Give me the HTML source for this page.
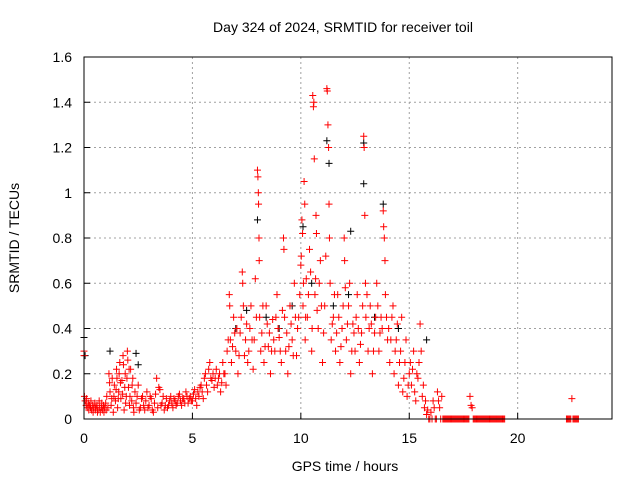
<!DOCTYPE html>
<html><head><meta charset="utf-8"><style>
body{margin:0;background:#fff}
svg{display:block;font-family:"Liberation Sans",sans-serif}
</style></head><body>
<svg id="chart" width="640" height="480" xmlns="http://www.w3.org/2000/svg">
<rect width="640" height="480" fill="#fff"/>
<text x="343" y="32" font-size="14" text-anchor="middle">Day 324 of 2024, SRMTID for receiver toil</text>
<text x="345" y="471" font-size="14" text-anchor="middle">GPS time / hours</text>
<text transform="translate(19,238) rotate(-90)" font-size="14" text-anchor="middle">SRMTID / TECUs</text>
<g id="grid"></g>
<g id="ticks"></g>
<g id="black"></g>
<g id="red"></g>
<rect x="84" y="57" width="528" height="362" fill="none" stroke="#000"/>
</svg>
<script>
const xTicks=[0,5,10,15,20];
const yTicks=[0,0.2,0.4,0.6,0.8,1,1.2,1.4,1.6];
const yTickLabels=["0","0.2","0.4","0.6","0.8","1","1.2","1.4","1.6"];
const redEarly=[[0,0.3],[0,0.28],[0.02,0.1],[0.05,0.08],[0.1,0.06],[0.12,0.09],[0.15,0.05],[0.2,0.07],[0.22,0.04],[0.25,0.06],[0.3,0.05],[0.32,0.08],[0.35,0.04],[0.4,0.06],[0.42,0.03],[0.45,0.05],[0.5,0.07],[0.52,0.04],[0.55,0.05],[0.6,0.06],[0.62,0.03],[0.65,0.04],[0.7,0.08],[0.72,0.05],[0.75,0.03],[0.8,0.05],[0.82,0.07],[0.85,0.04],[0.9,0.06],[0.92,0.03],[0.95,0.05],[1,0.07],[1.02,0.04],[1.05,0.1],[1.1,0.05],[1.15,0.2],[1.18,0.16],[1.2,0.12],[1.25,0.06],[1.28,0.09],[1.3,0.18],[1.35,0.03],[1.38,0.1],[1.4,0.15],[1.45,0.08],[1.48,0.13],[1.5,0.22],[1.52,0.18],[1.55,0.05],[1.58,0.09],[1.6,0.12],[1.62,0.2],[1.65,0.25],[1.68,0.16],[1.7,0.09],[1.75,0.17],[1.78,0.11],[1.8,0.28],[1.82,0.24],[1.85,0.04],[1.88,0.14],[1.9,0.2],[1.92,0.07],[1.95,0.1],[1.98,0.18],[2,0.3],[2.02,0.26],[2.05,0.14],[2.08,0.22],[2.1,0.06],[2.12,0.1],[2.15,0.22],[2.2,0.08],[2.22,0.15],[2.25,0.18],[2.28,0.05],[2.3,0.03],[2.35,0.12],[2.4,0.07],[2.45,0.1],[2.5,0.15],[2.55,0.04],[2.6,0.05],[2.65,0.09],[2.7,0.1],[2.75,0.06],[2.8,0.04],[2.85,0.08],[2.9,0.12],[2.95,0.05],[3,0.06],[3.05,0.1],[3.1,0.09],[3.15,0.04],[3.2,0.03],[3.25,0.07],[3.3,0.11],[3.35,0.18],[3.4,0.05],[3.45,0.14],[3.5,0.13],[3.55,0.06],[3.6,0.07],[3.65,0.1],[3.7,0.04],[3.75,0.06],[3.8,0.09],[3.85,0.05],[3.9,0.06],[3.95,0.08],[4,0.1],[4.05,0.07],[4.1,0.05],[4.15,0.09],[4.2,0.08],[4.25,0.06],[4.3,0.07],[4.35,0.1],[4.4,0.11],[4.45,0.08],[4.5,0.06],[4.55,0.09],[4.6,0.09],[4.65,0.07],[4.7,0.12],[4.75,0.1],[4.8,0.07],[4.85,0.09],[4.9,0.1],[4.95,0.08],[5,0.08],[5.05,0.11],[5.1,0.13],[5.15,0.09],[5.2,0.06],[5.25,0.12],[5.3,0.1],[5.35,0.14],[5.4,0.15],[5.45,0.12],[5.5,0.09],[5.55,0.18],[5.6,0.2],[5.65,0.15],[5.7,0.12],[5.75,0.22],[5.8,0.25],[5.85,0.18],[5.9,0.17],[5.95,0.2]];
const redMain=[[6,0.14],[6.05,0.18],[6.1,0.22],[6.15,0.15],[6.2,0.18],[6.25,0.2],[6.3,0.12],[6.35,0.16],[6.4,0.25],[6.45,0.2],[6.5,0.2],[6.55,0.15],[6.6,0.3],[6.65,0.35],[6.7,0.55],[6.72,0.5],[6.75,0.35],[6.8,0.25],[6.85,0.32],[6.9,0.45],[6.95,0.38],[7,0.3],[7.05,0.4],[7.1,0.2],[7.15,0.28],[7.2,0.38],[7.25,0.45],[7.3,0.65],[7.32,0.6],[7.35,0.5],[7.4,0.28],[7.45,0.35],[7.5,0.42],[7.55,0.25],[7.6,0.3],[7.65,0.4],[7.7,0.5],[7.75,0.35],[7.8,0.22],[7.85,0.35],[7.9,0.62],[7.95,0.45],[8,1.1],[8.02,1.07],[8.04,1],[8.05,0.95],[8.07,0.8],[8.08,0.7],[8.1,0.45],[8.15,0.3],[8.2,0.38],[8.25,0.5],[8.3,0.25],[8.35,0.32],[8.4,0.5],[8.45,0.42],[8.5,0.32],[8.55,0.38],[8.6,0.2],[8.65,0.3],[8.7,0.44],[8.75,0.35],[8.8,0.3],[8.85,0.45],[8.9,0.55],[8.95,0.4],[9,0.36],[9.05,0.3],[9.1,0.25],[9.15,0.48],[9.2,0.8],[9.22,0.75],[9.25,0.45],[9.3,0.3],[9.35,0.38],[9.4,0.2],[9.45,0.32],[9.5,0.5],[9.55,0.42],[9.6,0.35],[9.65,0.28],[9.7,0.6],[9.75,0.45],[9.8,0.28],[9.85,0.4],[9.9,0.45],[9.95,0.55],[10,0.68],[10.02,0.72],[10.05,0.88],[10.08,0.82],[10.1,0.5],[10.12,0.6],[10.15,1.05],[10.18,0.95],[10.2,0.35],[10.22,0.45],[10.25,0.62],[10.3,0.45],[10.35,0.55],[10.4,0.75],[10.45,0.65],[10.5,0.3],[10.52,0.4],[10.55,1.43],[10.58,1.38],[10.6,1.4],[10.62,1.15],[10.65,0.55],[10.68,0.62],[10.7,0.9],[10.72,0.82],[10.75,0.48],[10.8,0.4],[10.85,0.6],[10.9,0.7],[10.95,0.5],[11,0.25],[11.05,0.38],[11.1,0.5],[11.15,0.72],[11.2,1.46],[11.22,1.45],[11.25,1.3],[11.28,1.2],[11.3,0.95],[11.32,0.8],[11.35,0.6],[11.4,0.35],[11.45,0.42],[11.5,0.45],[11.55,0.55],[11.6,0.3],[11.65,0.38],[11.7,0.55],[11.75,0.45],[11.8,0.25],[11.85,0.32],[11.9,0.4],[11.95,0.5],[12,0.8],[12.02,0.7],[12.05,0.58],[12.1,0.35],[12.15,0.42],[12.2,0.5],[12.25,0.6],[12.3,0.2],[12.35,0.3],[12.4,0.42],[12.45,0.38],[12.5,0.3],[12.55,0.45],[12.6,0.55],[12.65,0.4],[12.7,0.25],[12.75,0.33],[12.8,0.38],[12.85,0.5],[12.9,1.25],[12.92,1.2],[12.95,0.9],[12.98,0.6],[13,0.45],[13.05,0.55],[13.1,0.3],[13.15,0.4],[13.2,0.5],[13.25,0.42],[13.3,0.2],[13.35,0.3],[13.4,0.38],[13.45,0.45],[13.5,0.6],[13.55,0.5],[13.6,0.3],[13.65,0.38],[13.7,0.45],[13.75,0.4],[13.8,0.92],[13.82,0.85],[13.85,0.8],[13.88,0.7],[13.9,0.55],[13.95,0.45],[14,0.35],[14.05,0.4],[14.1,0.25],[14.15,0.35],[14.2,0.45],[14.25,0.5],[14.3,0.2],[14.35,0.3],[14.4,0.35],[14.45,0.42],[14.5,0.15],[14.55,0.25],[14.6,0.3],[14.65,0.45],[14.7,0.12],[14.75,0.18],[14.8,0.25],[14.85,0.35],[14.9,0.1],[14.95,0.15],[15,0.2],[15.05,0.25],[15.1,0.15],[15.15,0.22],[15.2,0.3],[15.25,0.12],[15.3,0.08],[15.35,0.2],[15.4,0.18],[15.45,0.25],[15.5,0.42],[15.55,0.3],[15.6,0.1],[15.65,0.15],[15.7,0.05],[15.75,0.08],[15.8,0.02],[15.85,0.04],[15.9,0],[16,0.03],[16.1,0.08],[16.15,0.05],[16.2,0],[16.3,0.12],[16.35,0.08],[16.4,0.05],[16.5,0.1],[17.8,0.1],[17.85,0.06],[17.9,0.05]];
const redZeroHours=[15.95,16.05,16.25,16.45,16.55,16.6,16.65,16.7,16.75,16.8,16.85,16.9,16.95,17,17.05,17.1,17.15,17.2,17.25,17.3,17.35,17.4,17.45,17.5,17.55,17.6,17.65,17.7,17.75,17.95,18,18.05,18.1,18.15,18.2,18.25,18.3,18.35,18.4,18.45,18.5,18.55,18.6,18.65,18.7,18.75,18.8,18.85,18.9,18.95,19,19.05,19.1,19.15,19.2,19.25,19.3,19.35,19.4,22.25,22.3,22.35,22.4,22.45,22.55,22.6,22.65,22.7,22.75,22.8];
const redLate=[[22.5,0.09]];
const blackPoints=[[0,0.36],[0.05,0.28],[1.2,0.3],[2.4,0.29],[2.5,0.24],[7,0.4],[7.5,0.48],[8,0.88],[8.4,0.45],[9,0.4],[9.6,0.5],[10.1,0.85],[10.5,0.6],[11.2,1.23],[11.3,1.13],[11.5,0.5],[12.2,0.55],[12.3,0.83],[12.9,1.04],[12.9,1.22],[13.8,0.95],[13.4,0.45],[14.5,0.4],[15.8,0.35]];
const X0=84,X1=612,Y0=419,Y1=57,XMAX=24.35,YMAX=1.6;
const NS="http://www.w3.org/2000/svg";
const sx=h=>X0+h/XMAX*(X1-X0);
const sy=v=>Y0-v/YMAX*(Y0-Y1);
const grid=document.getElementById('grid'),ticks=document.getElementById('ticks');
function mk(tag,attrs,parent){const e=document.createElementNS(NS,tag);for(const k in attrs)e.setAttribute(k,attrs[k]);parent.appendChild(e);return e;}
xTicks.forEach(t=>{
  const x=sx(t);
  if(t>0){const g=mk('line',{x1:x,x2:x,y1:Y0,y2:Y1,stroke:'#a0a0a0','stroke-dasharray':'2,3'},grid);
  
  }
  const tl=mk('line',{x1:x,x2:x,y1:Y0,y2:Y0-6,stroke:'#000'},ticks);
  
  
  const tx=mk('text',{x:x,y:443,'font-size':14,'text-anchor':'middle'},ticks);tx.textContent=t;
  
  
});
yTicks.forEach((t,i)=>{
  const y=sy(t);
  if(t>0&&t<YMAX){const g=mk('line',{x1:X0,x2:X1,y1:y,y2:y,stroke:'#a0a0a0','stroke-dasharray':'2,3'},grid);
  
  }
  const tl=mk('line',{x1:X0,x2:X0+6,y1:y,y2:y,stroke:'#000'},ticks);
  
  
  const tx=mk('text',{x:X0-12,y:y+5,'font-size':14,'text-anchor':'end'},ticks);tx.textContent=yTickLabels[i];
  
  
});
function plot(pts,color,gid,name){
  const g=document.getElementById(gid);let d='';
  pts.forEach(([h,v])=>{const x=sx(h),y=sy(v);d+=`M${x-3.5} ${y}h7M${x} ${y-3.5}v7`;});
  const p=mk('path',{d:d,stroke:color,'stroke-width':1,fill:'none'},g);
  
  
}
plot(blackPoints,'#000','black','black-points');
plot(redEarly,'#ff0000','red','red-points-early');
plot(redMain,'#ff0000','red','red-points-main');
plot(redZeroHours.map(h=>[h,0]),'#ff0000','red','red-points-zero');
plot(redLate,'#ff0000','red','red-points-late');
</script>
</body></html>
